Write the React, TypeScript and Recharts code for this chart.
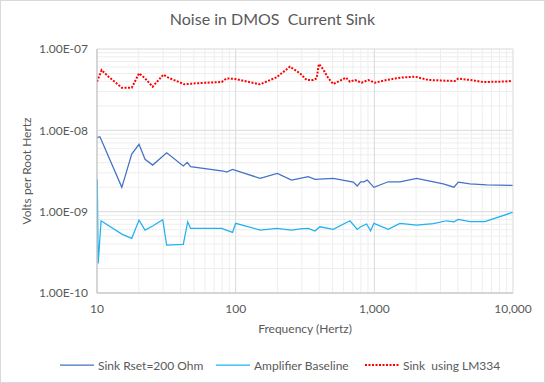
import { LineChart, Line, XAxis, YAxis, CartesianGrid, Label } from 'recharts';

// Sink Rset=200 Ohm
const sinkFreq = [10, 10.5, 15.1, 17.8, 20.1, 22.2, 25.2, 31.8, 41.9, 44.8, 47.3, 81.4, 86, 95, 150, 199.5, 253, 291, 334, 373, 506, 705, 753, 797, 842, 889, 993, 1259, 1530, 2018, 3140, 3750, 4030, 4895, 6460, 9930];
const sinkVals = [8.11e-9, 8.34e-9, 1.99e-9, 5.11e-9, 6.73e-9, 4.4e-9, 3.74e-9, 5.3e-9, 3.64e-9, 4.04e-9, 3.58e-9, 3.16e-9, 3.07e-9, 3.31e-9, 2.57e-9, 2.96e-9, 2.45e-9, 2.57e-9, 2.69e-9, 2.5e-9, 2.57e-9, 2.31e-9, 2.07e-9, 2.33e-9, 2.33e-9, 2.45e-9, 1.99e-9, 2.33e-9, 2.33e-9, 2.57e-9, 2.19e-9, 2.0e-9, 2.31e-9, 2.19e-9, 2.14e-9, 2.1e-9];

// Amplifier Baseline
const ampFreq = [10.05, 10.2, 10.7, 15.1, 17.8, 20.1, 22.2, 25.2, 29.8, 31.8, 41.9, 45.1, 47.3, 79.3, 95, 100, 150, 198, 253, 291, 334, 373, 405, 506, 667, 753, 797, 880, 940, 993, 1259, 1530, 2018, 2660, 3320, 3750, 4030, 4895, 6270, 9930];
const ampVals = [2.5e-9, 2.31e-10, 7.73e-10, 5.3e-10, 4.7e-10, 7.88e-10, 5.94e-10, 6.65e-10, 7.95e-10, 3.88e-10, 3.96e-10, 7.52e-10, 6.23e-10, 6.23e-10, 5.56e-10, 7.18e-10, 5.94e-10, 6.23e-10, 5.94e-10, 6.16e-10, 6.23e-10, 5.77e-10, 6.52e-10, 6.05e-10, 7.73e-10, 6.05e-10, 6.52e-10, 7.05e-10, 5.82e-10, 7.18e-10, 6.05e-10, 7.18e-10, 6.84e-10, 7.12e-10, 7.73e-10, 7.5e-10, 8.04e-10, 7.56e-10, 7.56e-10, 9.8e-10];

// Sink using LM334
const lmFreq = [10, 10.8, 12.1, 15.1, 17.8, 20.1, 22.2, 25.2, 30.1, 32.7, 42.7, 52.4, 61.8, 79.3, 86.1, 98.9, 149.7, 197.6, 246, 291, 325, 363, 384, 398, 428, 466, 506, 565, 624, 667, 725, 809, 904, 1009, 1227, 1530, 1963, 2450, 3813, 4030, 4895, 6100, 8050, 9775];
const lmVals = [3.96e-8, 5.5e-8, 4.57e-8, 3.34e-8, 3.34e-8, 5.02e-8, 4.36e-8, 3.44e-8, 4.83e-8, 4.44e-8, 3.68e-8, 3.79e-8, 3.85e-8, 3.93e-8, 4.36e-8, 4.28e-8, 3.68e-8, 4.49e-8, 6.06e-8, 5.02e-8, 4.16e-8, 4.16e-8, 4.36e-8, 6.54e-8, 5.62e-8, 4.36e-8, 3.71e-8, 4.07e-8, 4.44e-8, 3.96e-8, 4.16e-8, 3.85e-8, 4.16e-8, 3.85e-8, 4.16e-8, 4.44e-8, 4.57e-8, 4.16e-8, 4.04e-8, 4.32e-8, 4.16e-8, 3.93e-8, 3.96e-8, 4.04e-8];

const xTicks = [10, 100, 1000, 10000];
const yTicks = [1e-10, 1e-9, 1e-8, 1e-7];
const xMinor = [20, 30, 40, 50, 60, 70, 80, 90, 200, 300, 400, 500, 600, 700, 800, 900, 2000, 3000, 4000, 5000, 6000, 7000, 8000, 9000];
const yMinor = [2e-10, 3e-10, 4e-10, 5e-10, 6e-10, 7e-10, 8e-10, 9e-10, 2e-9, 3e-9, 4e-9, 5e-9, 6e-9, 7e-9, 8e-9, 9e-9, 2e-8, 3e-8, 4e-8, 5e-8, 6e-8, 7e-8, 8e-8, 9e-8];

const toRows = (fs: number[], vs: number[]) => fs.map((f, i) => ({ f, v: vs[i] }));
const sinkData = toRows(sinkFreq, sinkVals);
const ampData = toRows(ampFreq, ampVals);
const lmData = toRows(lmFreq, lmVals);

const FONT = 'Lato, "Open Sans", sans-serif';
const GREY = '#595959';

const fmtY = (v: number) => {
  const [m, e] = v.toExponential(2).split('e');
  const sign = e[0] === '-' ? '-' : '+';
  const num = e.replace(/^[-+]/, '').padStart(2, '0');
  return `${m}E${sign}${num}`;
};

const applyScale = (axis: any, v: number) => {
  const s = axis?.scale;
  if (!s) return NaN;
  return typeof s === 'function' ? s(v) : s.map(v);
};

const legendItems = [
  { name: 'Sink Rset=200 Ohm', color: '#4472C4', dash: undefined, left: 60 },
  { name: 'Amplifier Baseline', color: '#1FB2EF', dash: undefined, left: 216 },
  { name: 'Sink  using LM334', color: '#FF0000', dash: '2 1.5', left: 365 },
];

export default function App() {
  return (
    <div style={{ position: 'absolute', left: 0, top: 0, width: 545, height: 383, fontFamily: FONT, background: '#fff' }}>
      <div style={{ position: 'absolute', left: 0, top: 0, width: 543, height: 381, border: '1px solid #d9d9d9' }} />
      <div style={{ position: 'absolute', top: 9, width: 545, textAlign: 'center', fontSize: 16, color: GREY }}>
        Noise in DMOS&nbsp; Current Sink
      </div>
      <LineChart width={545} height={383} margin={{ top: 49, right: 32, bottom: 60, left: 10 }}>
        <CartesianGrid
          stroke="#eeeeee"
          verticalCoordinatesGenerator={({ xAxis }: any) => xMinor.map((v) => applyScale(xAxis, v))}
          horizontalCoordinatesGenerator={({ yAxis }: any) => yMinor.map((v) => applyScale(yAxis, v))}
        />
        <CartesianGrid stroke="#d9d9d9" />
        <XAxis
          dataKey="f"
          type="number"
          scale="log"
          domain={[10, 10000]}
          ticks={xTicks}
          allowDataOverflow
          height={30}
          tickSize={0}
          tickMargin={11}
          stroke="#bfbfbf"
          tick={{ fill: GREY, fontSize: 12, fontFamily: FONT }}
          tickFormatter={(v: number) => v.toLocaleString('en-US')}
        >
          <Label value="Frequency (Hertz)" position="bottom" offset={1} fill={GREY} fontSize={12} fontFamily={FONT} />
        </XAxis>
        <YAxis
          type="number"
          scale="log"
          domain={[1e-10, 1e-7]}
          ticks={yTicks}
          allowDataOverflow
          width={87}
          tickSize={0}
          tickMargin={9}
          stroke="#bfbfbf"
          tick={{ fill: GREY, fontSize: 12, fontFamily: FONT }}
          tickFormatter={fmtY}
        >
          <Label value="Volts per Root Hertz" angle={-90} position="insideLeft" offset={17} style={{ textAnchor: 'middle' }} fill={GREY} fontSize={12} fontFamily={FONT} />
        </YAxis>
        <Line data={sinkData} dataKey="v" type="linear" stroke="#4472C4" strokeWidth={1.25} dot={false} isAnimationActive={false} />
        <Line data={ampData} dataKey="v" type="linear" stroke="#1FB2EF" strokeWidth={1.25} dot={false} isAnimationActive={false} />
        <Line data={lmData} dataKey="v" type="linear" stroke="#FF0000" strokeWidth={2} strokeDasharray="2 1.5" dot={false} isAnimationActive={false} />
      </LineChart>
      {legendItems.map((it) => (
        <div key={it.name} style={{ position: 'absolute', left: it.left, top: 357, display: 'flex', alignItems: 'center', fontSize: 12, color: GREY, whiteSpace: 'pre' }}>
          <svg width={36} height={16} style={{ marginRight: 2 }}>
            <line x1={0} x2={34} y1={8} y2={8} stroke={it.color} strokeWidth={it.dash ? 2 : 1.25} strokeDasharray={it.dash} />
          </svg>
          <span>{it.name}</span>
        </div>
      ))}
    </div>
  );
}
